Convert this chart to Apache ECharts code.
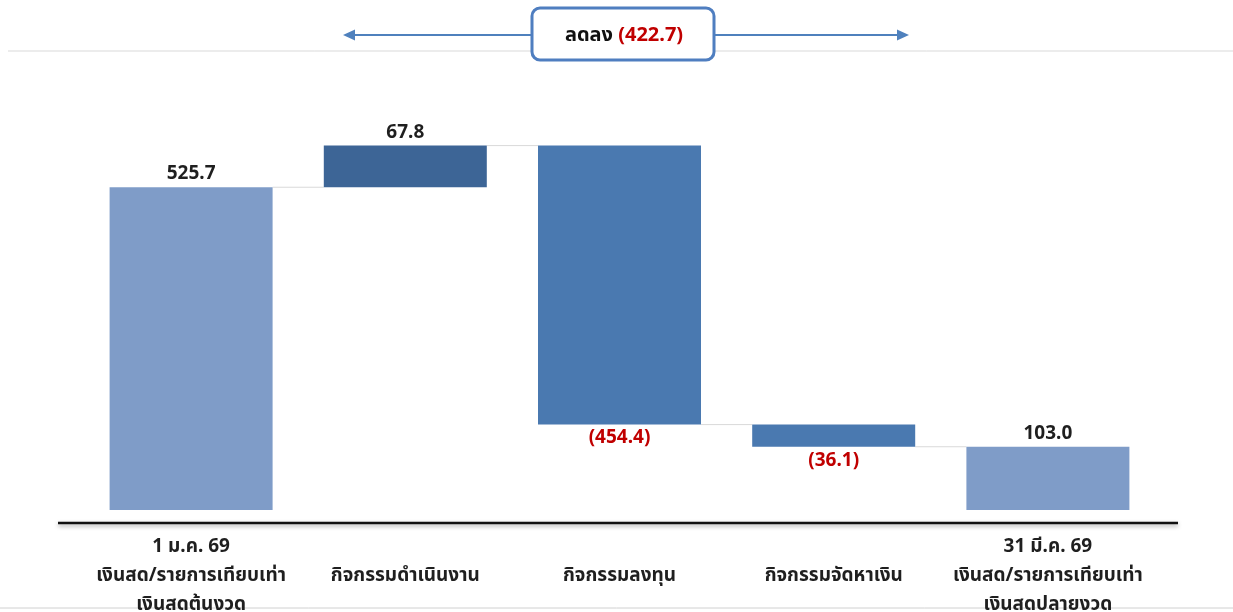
<!DOCTYPE html>
<html lang="th">
<head>
    <meta charset="UTF-8">
    <title>กระแสเงินสด</title>
    <script src="https://cdn.jsdelivr.net/npm/echarts@6.0.0/dist/echarts.min.js"></script>
    <style>
        html, body { margin: 0; padding: 0; background: #fff; }
        #chart { width: 1233px; height: 612px; }
    </style>
</head>
<body>
    <div id="chart"></div>
    <script>
        // ข้อมูล
        const categories = [
            '1 ม.ค. 69\nเงินสด/รายการเทียบเท่า\nเงินสดต้นงวด',
            'กิจกรรมดำเนินงาน',
            'กิจกรรมลงทุน',
            'กิจกรรมจัดหาเงิน',
            '31 มี.ค. 69\nเงินสด/รายการเทียบเท่า\nเงินสดปลายงวด'
        ];
        const amounts = [525.7, 67.8, -454.4, -36.1, 103.0];
        const isTotal = [true, false, false, false, true];
        const changeTotal = -422.7;

        const barColors = ['#7f9cc8', '#3d6596', '#4a79b0', '#4a79b0', '#7f9cc8'];
        const FONT = '"Noto Sans", "Noto Sans Thai", sans-serif';

        // คำนวณฐาน / ความสูงแท่ง (waterfall)
        const bases = [], heights = [], levels = [];
        let running = 0;
        amounts.forEach((v, i) => {
            if (isTotal[i]) {
                bases.push(0); heights.push(v); running = v;
            } else {
                const next = running + v;
                bases.push(Math.min(running, next));
                heights.push(Math.abs(v));
                running = next;
            }
            levels.push(running);
        });

        const fmt = v => v < 0 ? '(' + Math.abs(v).toFixed(1) + ')' : v.toFixed(1);

        const chart = echarts.init(document.getElementById('chart'));
        chart.setOption({
            animation: false,
            textStyle: { fontFamily: FONT },
            grid: { left: 84, right: 78, top: 110, bottom: 89, outerBoundsMode: 'none', containLabel: false },
            xAxis: {
                type: 'category',
                data: categories,
                axisLine: { show: false },
                axisTick: { show: false },
                axisLabel: {
                    margin: 53,
                    color: '#1f1f1f',
                    fontSize: 19,
                    fontWeight: 'bold',
                    lineHeight: 29,
                    verticalAlign: 'middle',
                    interval: 0
                }
            },
            yAxis: {
                type: 'value',
                min: -21.2,
                max: 593.5 + 58,
                show: false,
                splitLine: { show: false }
            },
            series: [
                {
                    type: 'bar',
                    stack: 'w',
                    data: bases,
                    itemStyle: { color: 'transparent' },
                    barWidth: 163,
                    silent: true
                },
                {
                    type: 'bar',
                    stack: 'w',
                    barWidth: 163,
                    data: heights.map((h, i) => ({
                        value: h,
                        itemStyle: { color: barColors[i] },
                        label: {
                            show: true,
                            position: amounts[i] < 0 ? 'bottom' : 'top',
                            distance: 4,
                            formatter: fmt(amounts[i]),
                            color: amounts[i] < 0 ? '#c00000' : '#1f1f1f',
                            fontSize: 19,
                            fontWeight: 'bold'
                        }
                    }))
                },
                {
                    // เส้นเชื่อมระหว่างแท่ง
                    type: 'custom',
                    silent: true,
                    z: 1,
                    data: levels.slice(0, -1).map((lv, i) => [i, lv]),
                    renderItem: function (params, api) {
                        const i = api.value(0);
                        const p1 = api.coord([i, api.value(1)]);
                        const p2 = api.coord([i + 1, api.value(1)]);
                        const half = 163 / 2;
                        return {
                            type: 'line',
                            shape: { x1: p1[0] + half, y1: p1[1], x2: p2[0] - half, y2: p2[1] },
                            style: { stroke: '#d9d9d9', lineWidth: 1 }
                        };
                    }
                }
            ],
            graphic: [
                // เส้นแกนล่าง
                {
                    type: 'line',
                    shape: { x1: 58, y1: 523, x2: 1178, y2: 523 },
                    style: { stroke: '#111', lineWidth: 2.5, shadowColor: 'rgba(0,0,0,0.35)', shadowBlur: 4, shadowOffsetY: 2 }
                },
                // เส้นเทาบน / ล่าง
                { type: 'line', shape: { x1: 8, y1: 51, x2: 1233, y2: 51 }, style: { stroke: '#d9d9d9', lineWidth: 1 } },
                { type: 'line', shape: { x1: 0, y1: 608, x2: 1233, y2: 608 }, style: { stroke: '#d0d0d0', lineWidth: 1 } },
                // ลูกศร
                { type: 'line', shape: { x1: 350, y1: 35, x2: 531, y2: 35 }, style: { stroke: '#4f81bd', lineWidth: 2 } },
                { type: 'polygon', shape: { points: [[343, 35], [355, 29.5], [355, 40.5]] }, style: { fill: '#4f81bd' } },
                { type: 'line', shape: { x1: 715, y1: 35, x2: 901, y2: 35 }, style: { stroke: '#4f81bd', lineWidth: 2 } },
                { type: 'polygon', shape: { points: [[909, 35], [897, 29.5], [897, 40.5]] }, style: { fill: '#4f81bd' } },
                // กล่องสรุป
                {
                    type: 'rect',
                    shape: { x: 532, y: 8, width: 182, height: 52, r: 8 },
                    style: { fill: '#fff', stroke: '#4f7ec0', lineWidth: 3 }
                },
                {
                    type: 'text',
                    x: 624, y: 35,
                    style: {
                        text: '{a|ลดลง} {b|' + fmt(changeTotal) + '}',
                        align: 'center',
                        verticalAlign: 'middle',
                        font: 'bold 20px ' + FONT,
                        rich: {
                            a: { fontSize: 20, fontWeight: 'bold', fill: '#111', fontFamily: FONT },
                            b: { fontSize: 20, fontWeight: 'bold', fill: '#c00000', fontFamily: FONT }
                        }
                    }
                }
            ]
        });
    </script>
</body>
</html>
